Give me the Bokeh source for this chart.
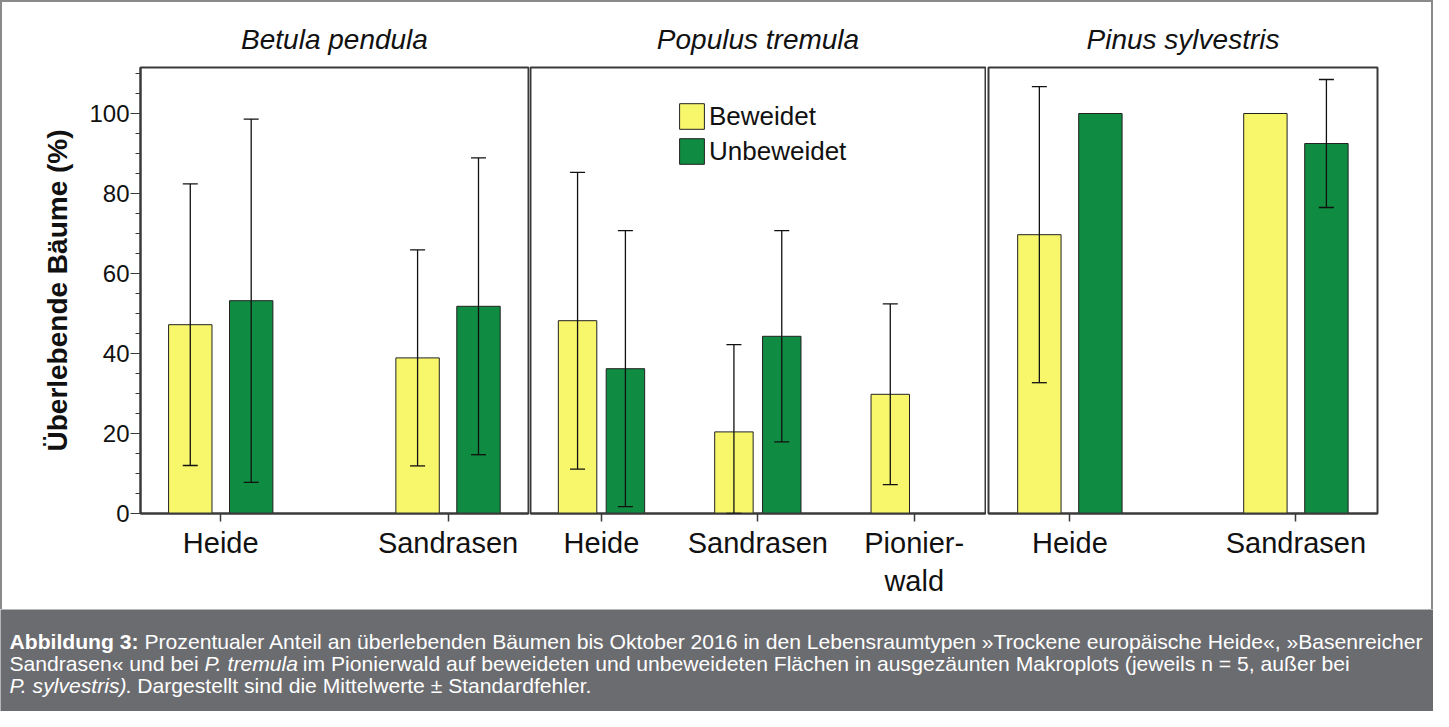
from bokeh.plotting import figure
from bokeh.models import (Range1d, FixedTicker, SingleIntervalTicker, Whisker, TeeHead,
                          ColumnDataSource, Legend, LegendItem)
from bokeh.layouts import column, row
from bokeh.embed import file_html
from bokeh.resources import INLINE
from bokeh.core.properties import value

# ---------------- data ----------------
species = ["Betula pendula", "Populus tremula", "Pinus sylvestris"]
series_names = ["Beweidet", "Unbeweidet"]

betula_habitats = ["Heide", "Sandrasen"]
betula_beweidet = [47.2, 38.9]
betula_beweidet_se = [35.2, 27.0]
betula_unbeweidet = [53.2, 51.8]
betula_unbeweidet_se = [45.4, 37.1]

populus_habitats = ["Heide", "Sandrasen", "Pionier-\nwald"]
populus_beweidet = [48.2, 20.4, 29.8]
populus_beweidet_se = [37.1, 21.8, 22.6]
populus_unbeweidet = [36.2, 44.3, None]
populus_unbeweidet_se = [34.5, 26.4, None]

pinus_habitats = ["Heide", "Sandrasen"]
pinus_beweidet = [69.7, 100.0]
pinus_beweidet_se = [37.0, 0.0]
pinus_unbeweidet = [100.0, 92.5]
pinus_unbeweidet_se = [0.0, 16.0]

y_label = "Überlebende Bäume (%)"

caption_lines = [
    [("Abbildung 3:", "bold"),
     (" Prozentualer Anteil an überlebenden Bäumen bis Oktober 2016 in den Lebensraumtypen "
      "»Trockene europäische Heide«, »Basenreicher", "normal")],
    [("Sandrasen« und bei ", "normal"), ("P. tremula", "italic"),
     (" im Pionierwald auf beweideten und unbeweideten Flächen in ausgezäunten Makroplots "
      "(jeweils n = 5, außer bei", "normal")],
    [("P. sylvestris)", "italic"),
     (". Dargestellt sind die Mittelwerte ± Standardfehler.", "normal")],
]

# ---------------- style ----------------
FONT = "Liberation Sans"
YELLOW = "#F8F76C"
GREEN = "#0F8B42"
EDGE = "#222222"
FRAME = "#3a3a3a"
CAPBG = "#6B6C70"
BORDER = "#8a8a8a"
TOTAL_W = 1433
TOP_H = 607
CAP_H = 102


def make_panel(title, habitats, b, b_se, u, u_se, width, mb_left, mb_right, xr, off, bw, show_y):
    p = figure(width=width, height=TOP_H, x_range=Range1d(*xr), y_range=Range1d(0, 111.5),
               output_backend="svg", toolbar_location=None,
               min_border_left=mb_left, min_border_right=mb_right,
               min_border_top=65, min_border_bottom=96,
               y_axis_location="left" if show_y else None,
               background_fill_color="white", border_fill_color="white")
    p.title.text = title
    p.title.align = "center"
    p.title.text_font = FONT
    p.title.text_font_size = "28px"
    p.title.text_font_style = "italic"
    p.title.text_color = "#111111"
    p.title.standoff = 25
    p.grid.visible = False
    p.outline_line_color = FRAME
    p.outline_line_width = 2
    p.outline_line_alpha = 1

    renderers = []
    for vals, ses, color, sign in [(b, b_se, YELLOW, -1), (u, u_se, GREEN, 1)]:
        xs, tops, wx, up, lo = [], [], [], [], []
        for i, (v, s) in enumerate(zip(vals, ses)):
            if v is None:
                continue
            xs.append(i + 1 + sign * off)
            tops.append(v)
            if s:
                wx.append(i + 1 + sign * off)
                up.append(v + s)
                lo.append(max(0.0, v - s))
        r = p.vbar(x=xs, top=tops, bottom=0, width=bw, fill_color=color,
                   line_color=EDGE, line_width=1)
        renderers.append(r)
        if wx:
            src = ColumnDataSource(dict(x=wx, upper=up, lower=lo))
            w = Whisker(source=src, base="x", upper="upper", lower="lower",
                        line_color="#111111", line_width=1.3, level="overlay",
                        upper_head=TeeHead(size=15, line_color="#111111", line_width=1.3),
                        lower_head=TeeHead(size=15, line_color="#111111", line_width=1.3))
            p.add_layout(w)

    ax = p.xaxis[0]
    ax.ticker = FixedTicker(ticks=list(range(1, len(habitats) + 1)))
    ax.major_label_overrides = {i + 1: h for i, h in enumerate(habitats)}
    ax.minor_tick_line_color = None
    ax.major_tick_out = 8
    ax.major_tick_in = 0
    ax.axis_line_color = FRAME
    ax.axis_line_width = 2
    ax.major_tick_line_color = FRAME
    ax.major_tick_line_width = 1.5
    ax.major_label_text_font = FONT
    ax.major_label_text_font_size = "29px"
    ax.major_label_text_color = "#111111"
    ax.major_label_standoff = 5

    if show_y:
        ay = p.yaxis[0]
        ay.ticker = SingleIntervalTicker(interval=20, num_minor_ticks=4)
        ay.major_tick_out = 10
        ay.major_tick_in = 0
        ay.minor_tick_out = 5
        ay.minor_tick_in = 0
        ay.axis_line_color = FRAME
        ay.axis_line_width = 2
        ay.major_tick_line_color = FRAME
        ay.minor_tick_line_color = FRAME
        ay.major_label_standoff = 1
        ay.major_label_text_font = FONT
        ay.major_label_text_font_size = "24px"
        ay.major_label_text_color = "#111111"
        ay.axis_label = y_label
        ay.axis_label_text_font = FONT
        ay.axis_label_text_font_size = "28px"
        ay.axis_label_text_font_style = "bold"
        ay.axis_label_text_color = "#111111"
        ay.axis_label_standoff = 13
    return p, renderers


p1, _ = make_panel(species[0], betula_habitats, betula_beweidet, betula_beweidet_se,
                   betula_unbeweidet, betula_unbeweidet_se,
                   width=527, mb_left=138, mb_right=1, xr=(0.647, 2.354), off=0.134, bw=0.191, show_y=True)
p2, rr = make_panel(species[1], populus_habitats, populus_beweidet, populus_beweidet_se,
                    populus_unbeweidet, populus_unbeweidet_se,
                    width=457, mb_left=1, mb_right=1, xr=(0.546, 3.456), off=0.153, bw=0.246, show_y=False)
p3, _ = make_panel(species[2], pinus_habitats, pinus_beweidet, pinus_beweidet_se,
                   pinus_unbeweidet, pinus_unbeweidet_se,
                   width=445, mb_left=2, mb_right=54, xr=(0.640, 2.361), off=0.135, bw=0.192, show_y=False)

legend = Legend(items=[LegendItem(label=series_names[0], renderers=[rr[0]]),
                       LegendItem(label=series_names[1], renderers=[rr[1]])],
                location=(146, 346), margin=0, padding=0, spacing=3,
                glyph_width=31, glyph_height=32, label_height=26, label_standoff=2,
                label_text_font=FONT, label_text_font_size="26px", label_text_color="#111111",
                border_line_alpha=0, background_fill_alpha=0)
p2.add_layout(legend, "center")

# ---------------- caption ----------------
REG = {}
for chars, w in [(" ", 278), ("(", 333), (")", 333), (",", 278), ("-", 333), (".", 278),
                 (":", 278), ("=", 584), ("0123456789", 556), ("±", 549), ("«»", 556),
                 ("A", 667), ("B", 667), ("C", 722), ("D", 722), ("E", 667), ("F", 611),
                 ("G", 778), ("H", 722), ("I", 278), ("J", 500), ("K", 667), ("L", 556),
                 ("M", 833), ("N", 722), ("O", 778), ("P", 667), ("Q", 778), ("R", 722),
                 ("S", 667), ("T", 611), ("U", 722), ("V", 667), ("W", 944), ("X", 667),
                 ("Y", 667), ("Z", 611),
                 ("abdeghnopqu", 556), ("cksvxyz", 500), ("ft", 278), ("ijl", 222),
                 ("m", 833), ("r", 333), ("w", 722), ("äöü", 556), ("ß", 611)]:
    for c in chars:
        REG[c] = w
BOLD = dict(REG)
BOLD.update({"A": 722, "b": 611, "d": 611, "u": 611, "n": 611, "g": 611, "i": 278,
             "l": 278, ":": 333})


def em(text, style):
    tbl = BOLD if style == "bold" else REG
    w = sum(tbl.get(c, 556) for c in text) / 1000.0
    w -= 0.18 * text.count("P.")  # kerning of "P."
    return w


x_start = 9
line1_em = sum(em(t, s) for t, s in caption_lines[0])
cap_fs = (1424 - x_start) / line1_em
line_y = [32, 54, 76]

cap = figure(width=TOTAL_W, height=CAP_H, x_range=Range1d(0, TOTAL_W), y_range=Range1d(CAP_H, 0),
             output_backend="svg", toolbar_location=None, min_border=0,
             x_axis_location=None, y_axis_location=None,
             background_fill_color=CAPBG, border_fill_color=CAPBG, outline_line_color=None)
cap.grid.visible = False

segs = {"bold": ([], [], []), "normal": ([], [], []), "italic": ([], [], [])}
for yy, line in zip(line_y, caption_lines):
    cx = x_start
    for t, s in line:
        lead = len(t) - len(t.lstrip(" "))
        segs[s][0].append(cx + em(t[:lead], s) * cap_fs)
        segs[s][1].append(yy)
        segs[s][2].append(t.strip(" "))
        cx += em(t, s) * cap_fs
for s, (xs, ys, ts) in segs.items():
    cap.text(x=xs, y=ys, text=ts, text_font=value(FONT), text_font_size="%.2fpx" % cap_fs,
             text_font_style=s, text_color="white", text_baseline="middle", text_align="left")

panels = row(p1, p2, p3, styles={"background-color": "white"})
top = column(panels, styles={"background-color": BORDER, "padding": "2px 2px 0px 2px"})
layout = column(top, cap)

open("out.html", "w").write(file_html(layout, INLINE))
